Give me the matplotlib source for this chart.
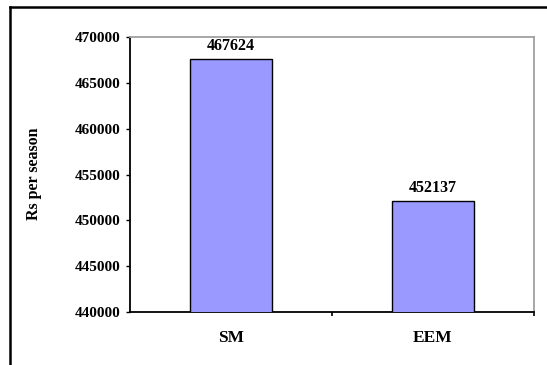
import matplotlib.pyplot as plt
from matplotlib.lines import Line2D

# seasonal cost per method
methods = ["SM", "EEM"]
costs = [467624, 452137]
y_ticks = [440000, 445000, 450000, 455000, 460000, 465000, 470000]

plt.rcParams["font.family"] = ["Liberation Serif", "DejaVu Serif"]
plt.rcParams["font.weight"] = "bold"

fig = plt.figure(figsize=(5.47, 3.65), dpi=100)
ax = fig.add_axes([130 / 547, 1 - 312 / 365, 404 / 547, 275 / 365])

xs = list(range(len(methods)))
bars = ax.bar(xs, costs, width=0.405, color="#9999FF", edgecolor="black",
              linewidth=1.0, zorder=3)

for b, v in zip(bars, costs):
    ax.annotate(str(v), (b.get_x() + b.get_width() / 2, v),
                xytext=(0, 3.5), textcoords="offset points",
                ha="center", va="bottom", fontsize=11.5, fontweight="bold")

ax.set_xlim(-0.5, len(methods) - 0.5)
ax.set_ylim(y_ticks[0], y_ticks[-1])
ax.set_yticks(y_ticks)
ax.set_yticklabels([str(t) for t in y_ticks], fontsize=11, fontweight="bold")
ax.tick_params(axis="y", direction="out", length=3, width=1, pad=4)

ax.set_xticks(xs)
ax.set_xticklabels(methods, fontsize=12.5, fontweight="bold")
ax.tick_params(axis="x", which="major", length=0, pad=13)
ax.set_xticks([x + 0.5 for x in xs], minor=True)
ax.tick_params(axis="x", which="minor", direction="out", length=3, width=1.2)

for side in ("left", "bottom"):
    ax.spines[side].set_color("black")
    ax.spines[side].set_linewidth(1.3)
for side in ("top", "right"):
    ax.spines[side].set_color("#A0A0A0")
    ax.spines[side].set_linewidth(1.3)

fig.text(33.5 / 547, 1 - 174 / 365, "Rs per season", rotation=90,
         ha="center", va="center", fontsize=11.5, fontweight="bold")

# outer chart frame (left and top edges)
fig.add_artist(Line2D([9.5 / 547, 9.5 / 547], [0, 1 - 6.5 / 365],
                      transform=fig.transFigure, color="black", linewidth=1.8))
fig.add_artist(Line2D([9.5 / 547, 1], [1 - 6.5 / 365, 1 - 6.5 / 365],
                      transform=fig.transFigure, color="black", linewidth=1.8))

fig.savefig("out.png", dpi=100)
